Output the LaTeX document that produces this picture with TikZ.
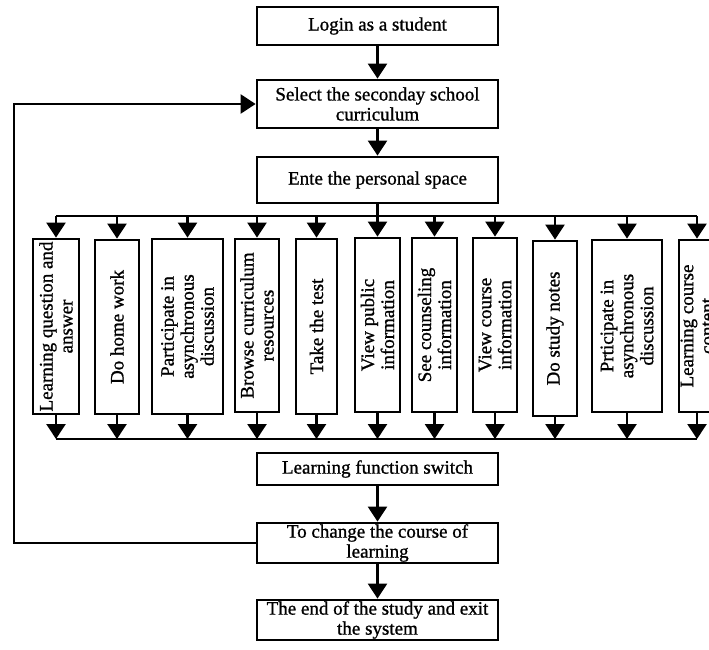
\documentclass[tikz,border=0pt]{standalone}
\usepackage{fontspec}
\setmainfont{Liberation Serif}[UprightFeatures={FakeBold=1}]
\usetikzlibrary{arrows.meta}
\tikzset{
  txt/.style={font=\fontsize{19}{20}\selectfont, text=black},
  hbox/.style={txt, draw, line width=2.8pt, minimum width=241pt, inner sep=0pt, align=center},
  vbox/.style={txt, draw, line width=2.8pt, rotate=90, inner sep=0pt, align=center},
  conn/.style={line width=2.5pt},
  arr/.style={line width=2.5pt, -{Triangle[width=19pt,length=15pt]}},
}
\begin{document}
\begin{tikzpicture}[x=1pt,y=-1pt]
\useasboundingbox[fill=white] (0,0) rectangle (709,650);
% main column
\node[hbox, minimum height=38pt] (login) at (377.5,26) {Login as a student};
\node[hbox, minimum height=48pt] (select) at (377.5,104) {Select the seconday school\\curriculum};
\node[hbox, minimum height=46pt] (ente) at (377.5,180) {Ente the personal space};
\node[hbox, minimum height=32pt] (lfs) at (377.5,469) {Learning function switch};
\node[hbox, minimum height=40pt] (change) at (377.5,543) {To change the course of\\learning};
\node[hbox, minimum height=40pt] (endbox) at (377.5,620) {The end of the study and exit\\the system};
% vertical boxes
\node[vbox, minimum width=175pt, minimum height=46pt] (b1) at (56,326.5) {Learning question and\\answer};
\node[vbox, minimum width=174pt, minimum height=44pt] (b2) at (117,327) {Do home work};
\node[vbox, minimum width=175pt, minimum height=71pt] (b3) at (187.5,326.5) {Participate in\\asynchronous\\discussion};
\node[vbox, minimum width=173pt, minimum height=44pt] (b4) at (257,325.5) {Browse curriculum\\resources};
\node[vbox, minimum width=175pt, minimum height=41pt] (b5) at (316.5,326.5) {Take the test};
\node[vbox, minimum width=174pt, minimum height=45pt] (b6) at (377.5,325) {View public\\information};
\node[vbox, minimum width=174pt, minimum height=45pt] (b7) at (434.5,325) {See counseling\\information};
\node[vbox, minimum width=174pt, minimum height=44pt] (b8) at (495,325) {View course\\information};
\node[vbox, minimum width=175pt, minimum height=44pt] (b9) at (555,328.5) {Do study notes};
\node[vbox, minimum width=172pt, minimum height=70pt] (b10) at (627,326) {Prticipate in\\asynchronous\\discussion};
\node[vbox, minimum width=172pt, minimum height=36pt] (b11) at (697,326) {Learning course\\content};
% connectors
\draw[arr] (login.south) -- (select.north);
\draw[arr] (select.south) -- (ente.north);
\coordinate (tbus) at (0,216);
\coordinate (bbus) at (0,439);
\draw[conn] (ente.south) -- (ente.south |- tbus);
\draw[conn] (b1.east |- tbus) -- (b11.east |- tbus);
\draw[conn] (b1.west |- bbus) -- (b11.west |- bbus);
\foreach \b in {b1,b2,b3,b4,b5,b6,b7,b8,b9,b10,b11}{
  \draw[arr] (\b.east |- tbus) -- (\b.east);
  \draw[arr] (\b.west) -- (\b.west |- bbus);
}
\draw[arr] (lfs.south) -- (change.north);
\draw[arr] (change.south) -- (endbox.north);
\coordinate (loopx) at (14,0);
\draw[arr] (change.west) -- (loopx |- change.west) -- (loopx |- select.west) -- (select.west);
\end{tikzpicture}
\end{document}
